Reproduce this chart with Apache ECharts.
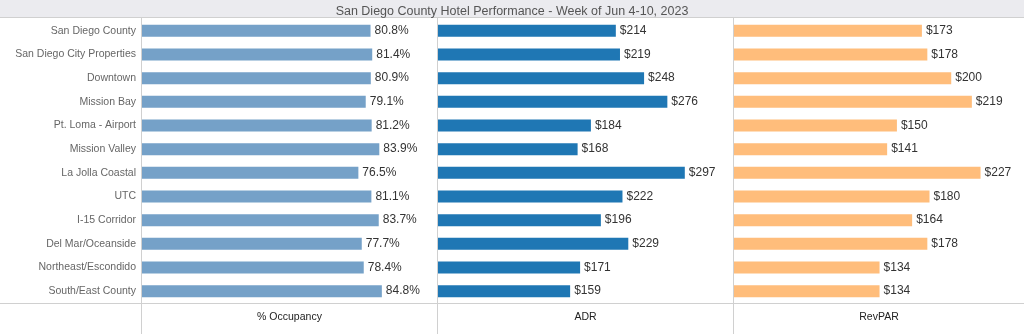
<!DOCTYPE html>
<html><head><meta charset="utf-8">
<script src="https://cdn.jsdelivr.net/npm/echarts@6/dist/echarts.min.js"></script>
<style>html,body{margin:0;padding:0;background:#fff}#c{width:1024px;height:334px}</style>
</head><body><div id="c"></div>
<script>
const categories = ["San Diego County","San Diego City Properties","Downtown","Mission Bay","Pt. Loma - Airport","Mission Valley","La Jolla Coastal","UTC","I-15 Corridor","Del Mar/Oceanside","Northeast/Escondido","South/East County"];
const occupancy = [80.8,81.4,80.9,79.1,81.2,83.9,76.5,81.1,83.7,77.7,78.4,84.8];
const adr = [214,219,248,276,184,168,297,222,196,229,171,159];
const revpar = [173,178,200,219,150,141,227,180,164,178,134,134];
const panelNames = ["% Occupancy","ADR","RevPAR"];
const titleText = "San Diego County Hotel Performance - Week of Jun 4-10, 2023";

const chart = echarts.init(document.getElementById('c'), null, {renderer:'canvas'});
const FONT = '"Liberation Sans", Arial, sans-serif';
const TOP = 19, BOTTOM = 303;
const grids = [
  {left:142, width:295, top:TOP, height:BOTTOM-TOP},
  {left:438, width:295, top:TOP, height:BOTTOM-TOP},
  {left:734, width:290, top:TOP, height:BOTTOM-TOP}
];
const maxes = [104.3, 355, 267];
const colors = ['#75a1c8','#1f77b4','#ffbd7b'];
const fmts = [v=>v.value.toFixed(1)+'%', v=>'$'+v.value, v=>'$'+v.value];
const datas = [occupancy, adr, revpar];

const option = {
  animation:false,
  textStyle:{fontFamily:FONT},
  title:{text:titleText,left:'center',top:0,textStyle:{fontSize:12.5,fontWeight:'normal',color:'#555',fontFamily:FONT}},
  graphic:[
    {type:'rect',shape:{x:0,y:0,width:1024,height:17},style:{fill:'#ebebef'},z:-10},
    {type:'line',shape:{x1:0,y1:17.5,x2:1024,y2:17.5},style:{stroke:'#d0d0d0',lineWidth:1}},
    {type:'line',shape:{x1:0,y1:303.5,x2:1024,y2:303.5},style:{stroke:'#d0d0d0',lineWidth:1}},
    {type:'line',shape:{x1:141.5,y1:18,x2:141.5,y2:334},style:{stroke:'#d0d0d0',lineWidth:1}},
    {type:'line',shape:{x1:437.5,y1:18,x2:437.5,y2:334},style:{stroke:'#d0d0d0',lineWidth:1}},
    {type:'line',shape:{x1:733.5,y1:18,x2:733.5,y2:334},style:{stroke:'#d0d0d0',lineWidth:1}}
  ],
  grid:grids,
  xAxis:grids.map((g,i)=>({type:'value',gridIndex:i,min:0,max:maxes[i],
    axisLine:{show:false},axisTick:{show:false},axisLabel:{show:false},splitLine:{show:false},
    name:panelNames[i],nameLocation:'middle',nameGap:9,
    nameTextStyle:{fontSize:10.5,color:'#222',fontFamily:FONT}})),
  yAxis:grids.map((g,i)=>({type:'category',gridIndex:i,data:categories,inverse:true,
    axisLine:{show:false},axisTick:{show:false},
    axisLabel:{show:i===0,fontSize:10.5,color:'#666',margin:6,fontFamily:FONT}})),
  series:datas.map((d,i)=>({type:'bar',xAxisIndex:i,yAxisIndex:i,data:d,barWidth:12,
    itemStyle:{color:colors[i]},
    label:{show:true,position:'right',distance:4,fontSize:12,color:'#333',fontFamily:FONT,formatter:fmts[i]}}))
};
chart.setOption(option);
</script></body></html>
